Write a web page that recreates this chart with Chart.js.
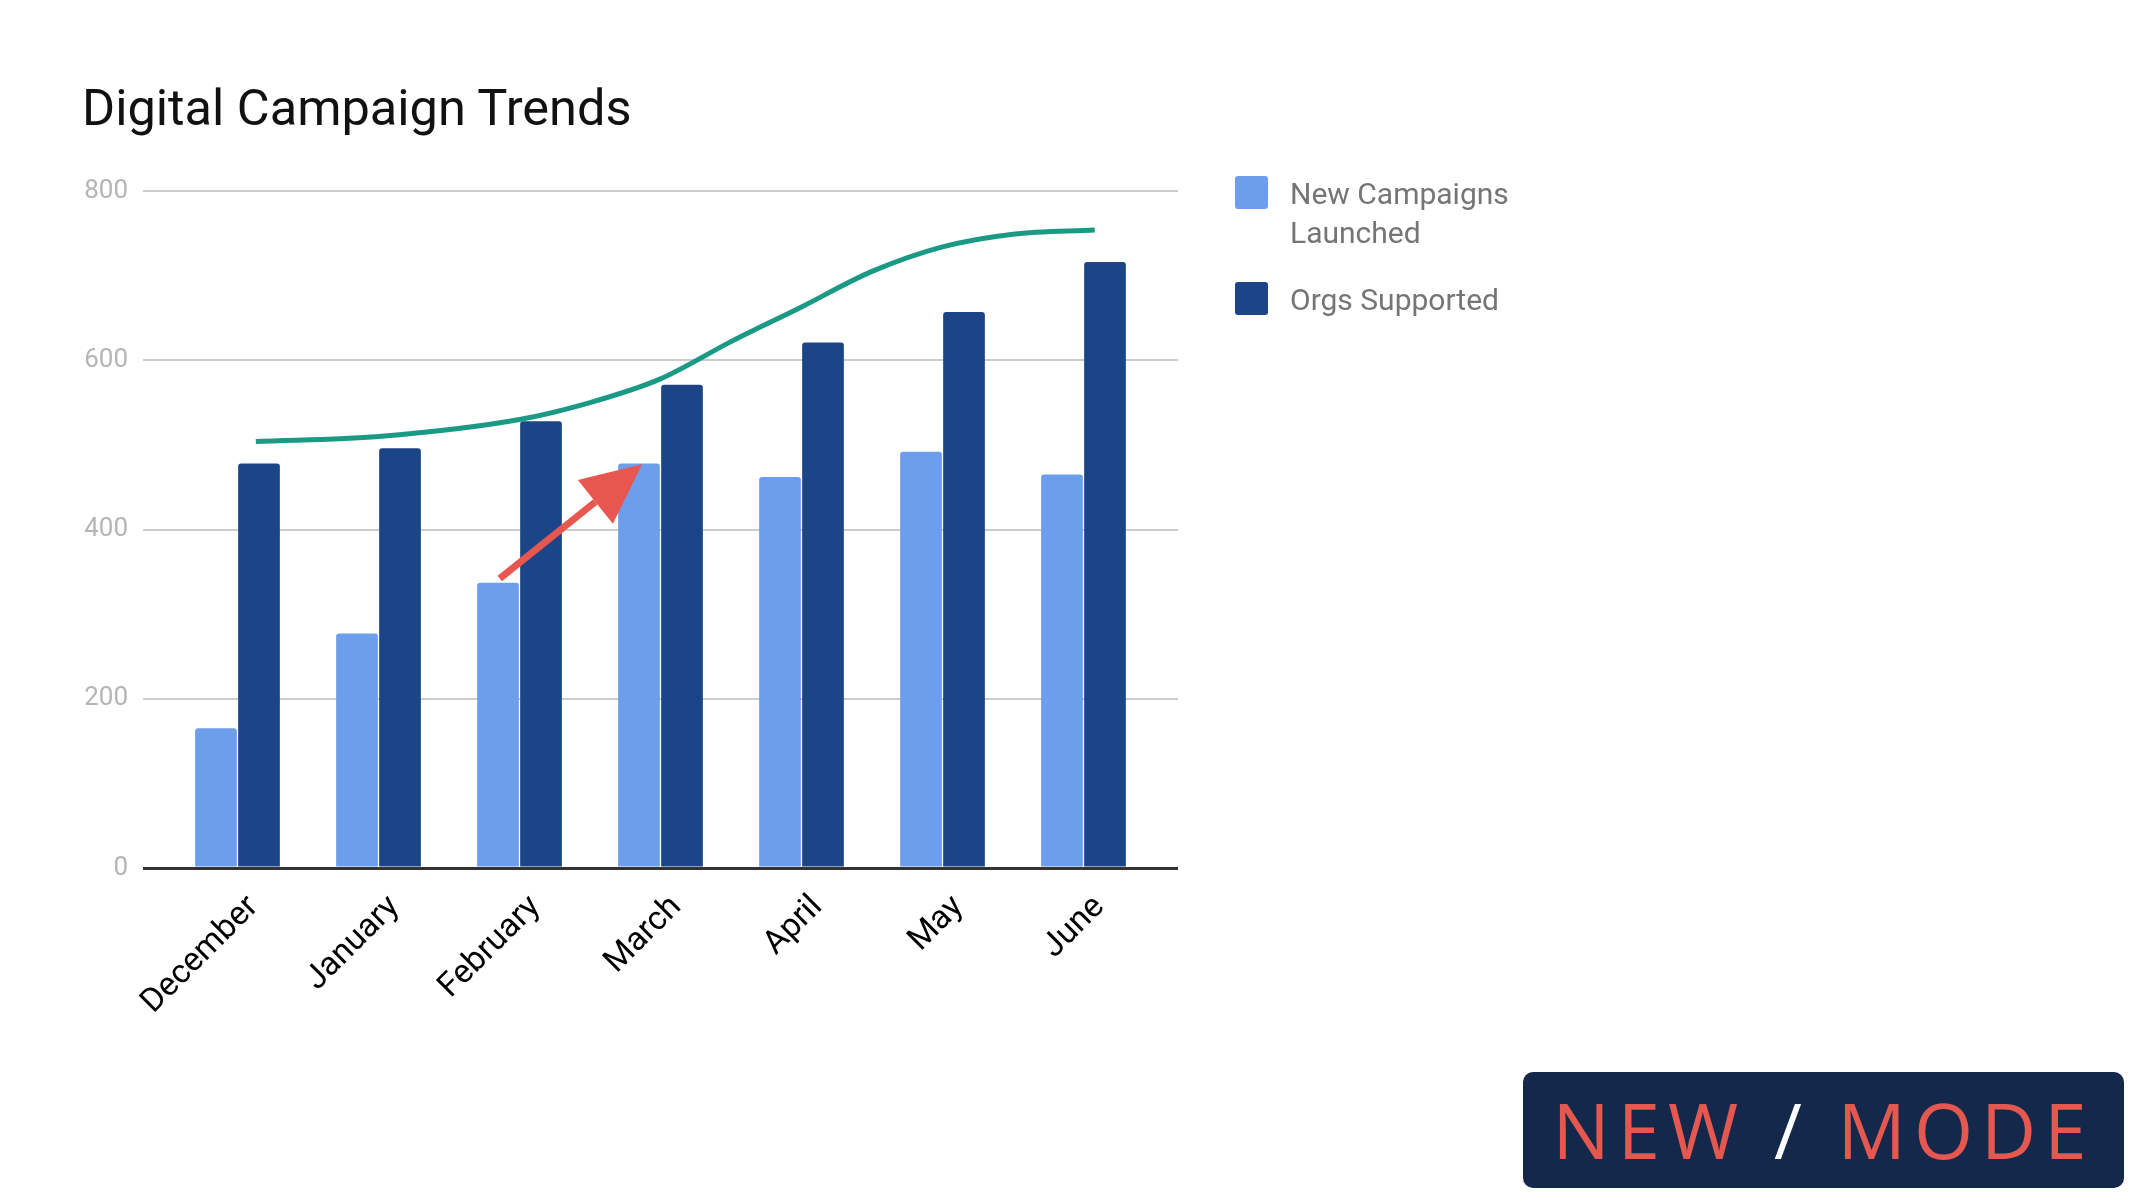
<!DOCTYPE html>
<html>
<head>
<meta charset="utf-8">
<script src="https://cdn.jsdelivr.net/npm/chart.js@4"></script>
<style>
    body { margin: 0; background: #fff; font-family: Roboto, sans-serif; }
    #wrap { position: relative; width: 2156px; height: 1204px; }
    #title { position: absolute; left: 82px; top: 82px; font-size: 50.5px; line-height: 51px; color: #111; }
    .legend-box { position: absolute; left: 1235px; width: 33px; height: 33px; border-radius: 3px; }
    .legend-text { position: absolute; left: 1290px; font-size: 30px; line-height: 39px; color: #757575; }
    #logo {
        position: absolute; left: 1523px; top: 1072px; width: 601px; height: 116px;
        background: #14284b; border-radius: 10px;
        font-family: "Open Sans", sans-serif; font-size: 76px; line-height: 116px;
        color: #e5584f; text-align: center; letter-spacing: 8px;
    }
    #logo .slash { color: #fff; }
</style>
</head>
<body>
<div id="wrap">
    <canvas id="chart"></canvas>
    <div id="title">Digital Campaign Trends</div>
    <div class="legend-box" style="top:176px;background:#6d9eeb"></div>
    <div class="legend-text" style="top:174px">New Campaigns<br>Launched</div>
    <div class="legend-box" style="top:282px;background:#1c4587"></div>
    <div class="legend-text" style="top:280px">Orgs Supported</div>
    <div id="logo">NEW <span class="slash">/</span> MODE</div>
</div>
<script>
// Data
const categories = ['December', 'January', 'February', 'March', 'April', 'May', 'June'];
const newCampaigns = [165, 277, 337, 478, 462, 492, 465];
const orgsSupported = [478, 496, 528, 571, 621, 657, 716];
const yTicks = [0, 200, 400, 600, 800];

// hand-drawn trend curve, x in category index units
const trendX = [0.13, 1, 2, 2.5, 3, 3.5, 4, 4.5, 5, 5.5, 6.08];
const trendY = [504, 510, 530, 550, 578, 622, 663, 705, 734, 749, 754];

// red arrow (start, tip)
const arrowX = [1.86, 2.87];
const arrowY = [342, 477];

const colors = {
    light: '#6d9eeb',
    dark: '#1c4587',
    trend: '#1a9a85',
    arrow: '#e8574f',
    grid: '#cccccc',
    zero: '#333333'
};

function gridColor(ctx) {
    return ctx.tick && ctx.tick.value === 0 ? colors.zero : colors.grid;
}
function gridWidth(ctx) {
    return ctx.tick && ctx.tick.value === 0 ? 3 : 2;
}
function setYTicks(scale) {
    scale.ticks = yTicks.map(v => ({ value: v }));
}

// Red arrow drawn through the chart scales
const arrowPlugin = {
    id: 'arrow',
    afterDatasetsDraw(chart) {
        const xs = chart.scales.x;
        const ys = chart.scales.y;
        const x0 = xs.getPixelForValue(arrowX[0]);
        const y0 = ys.getPixelForValue(arrowY[0]);
        const x1 = xs.getPixelForValue(arrowX[1]);
        const y1 = ys.getPixelForValue(arrowY[1]);
        const ang = Math.atan2(y1 - y0, x1 - x0);
        const headLen = 60, headW = 28;
        const bx = x1 - headLen * Math.cos(ang);
        const by = y1 - headLen * Math.sin(ang);
        const ctx = chart.ctx;
        ctx.save();
        ctx.strokeStyle = colors.arrow;
        ctx.fillStyle = colors.arrow;
        ctx.lineWidth = 7;
        ctx.beginPath();
        ctx.moveTo(x0, y0);
        ctx.lineTo(bx, by);
        ctx.stroke();
        ctx.beginPath();
        ctx.moveTo(x1, y1);
        ctx.lineTo(bx + headW * Math.sin(ang), by - headW * Math.cos(ang));
        ctx.lineTo(bx - headW * Math.sin(ang), by + headW * Math.cos(ang));
        ctx.closePath();
        ctx.fill();
        ctx.restore();
    }
};

const barStyle = {
    borderRadius: { topLeft: 3, topRight: 3 },
    borderSkipped: 'bottom',
    categoryPercentage: 0.61,
    barPercentage: 0.97,
    order: 1
};

new Chart(document.getElementById('chart'), {
    type: 'bar',
    data: {
        datasets: [
            Object.assign({
                label: 'New Campaigns Launched',
                data: newCampaigns.map((v, i) => ({ x: i, y: v })),
                backgroundColor: colors.light
            }, barStyle),
            Object.assign({
                label: 'Orgs Supported',
                data: orgsSupported.map((v, i) => ({ x: i, y: v })),
                backgroundColor: colors.dark
            }, barStyle),
            {
                type: 'line',
                label: 'Trend',
                data: trendX.map((x, i) => ({ x: x, y: trendY[i] })),
                borderColor: colors.trend,
                borderWidth: 5,
                pointRadius: 0,
                cubicInterpolationMode: 'monotone',
                order: 0
            }
        ]
    },
    options: {
        responsive: true,
        maintainAspectRatio: false,
        animation: false,
        layout: { padding: { top: 191, right: 978, bottom: 0, left: 0 } },
        plugins: {
            legend: { display: false },
            tooltip: { enabled: false }
        },
        scales: {
            x: {
                type: 'linear',
                min: -0.5,
                max: 6.5,
                offset: false,
                afterBuildTicks: s => { s.ticks = categories.map((c, i) => ({ value: i })); },
                grid: { display: false },
                border: { display: false },
                ticks: {
                    callback: v => categories[v],
                    color: '#000',
                    font: { family: 'Roboto', size: 33 },
                    minRotation: 45,
                    maxRotation: 45,
                    autoSkip: false,
                    padding: 12,
                    labelOffset: 16
                },
                afterFit: s => { s.height = 336; }
            },
            y: {
                min: 0,
                max: 800,
                afterBuildTicks: setYTicks,
                grid: { color: gridColor, tickColor: gridColor, lineWidth: gridWidth, tickLength: 24 },
                border: { display: false },
                ticks: {
                    color: '#b5b5b5',
                    font: { family: 'Roboto', size: 26 },
                    padding: 15
                },
                afterFit: s => { s.width = 167; }
            },
            // right-hand stub so the gridlines run past the last group like the original
            y2: {
                position: 'right',
                min: 0,
                max: 800,
                afterBuildTicks: setYTicks,
                grid: { drawOnChartArea: false, color: gridColor, tickColor: gridColor, lineWidth: gridWidth, tickLength: 24 },
                border: { display: false },
                ticks: { display: false },
                afterFit: s => { s.width = 24; }
            }
        }
    },
    plugins: [arrowPlugin]
});
</script>
</body>
</html>
